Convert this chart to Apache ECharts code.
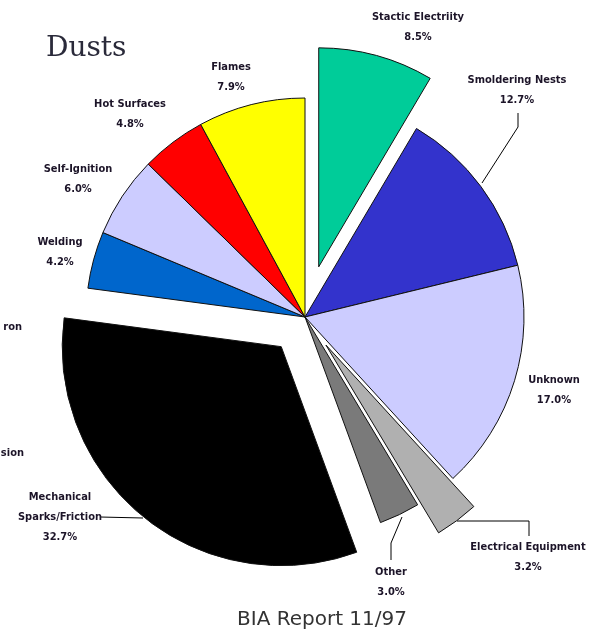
<!DOCTYPE html>
<html>
<head>
<meta charset="utf-8">
<script src="https://cdn.jsdelivr.net/npm/echarts@6/dist/echarts.min.js"></script>
<style>
html,body{margin:0;padding:0;background:#fff;}
#chart{width:600px;height:632px;}
</style>
</head>
<body>
<div id="chart"></div>
<script>
// ---- data ----
var categories = ["Stactic Electriity", "Smoldering Nests", "Unknown", "Electrical Equipment", "Other",
  "Mechanical\nSparks/Friction", "Welding", "Self-Ignition", "Hot Surfaces", "Flames"];
var shares = [8.5, 12.7, 17.0, 3.2, 3.0, 32.7, 4.2, 6.0, 4.8, 7.9];

// ---- styles ----
var colors = ["#00cc99", "#3333cc", "#ccccff", "#b0b0b0", "#7a7a7a", "#000000", "#0066cc", "#ccccff", "#ff0000", "#ffff00"];
var explode = [52, 0, 0, 35, 0, 38, 0, 0, 0, 0];
// label anchors (center x, middle y) and optional leader lines
var labelPos = [[418, 27], [517, 90], [554, 390], [528, 557], [391, 582], [60, 517], [60, 252], [78, 179], [130, 114], [231, 77]];
var leaders = {
  1: [[482, 183], [518, 127], [518, 113]],
  3: [[457, 521], [529, 521], [529, 536]],
  4: [[402, 517], [391, 543], [391, 560]],
  5: [[143, 518], [100, 517]]
};
var LABEL_FONT = 'DejaVu Sans Condensed';
var LABEL_COLOR = '#1c1428';

var chart = echarts.init(document.getElementById('chart'), null, {renderer: 'canvas'});
var CENTER = [305, 317], R = 219;

function buildSeries(groupIdx, offset, withLabels) {
  var data = categories.map(function (name, i) {
    var visible = (groupIdx === null) ? explode[i] === 0 : i === groupIdx;
    var item = {
      name: name,
      value: shares[i],
      itemStyle: visible ? {
        color: colors[i],
        borderColor: '#111',
        borderWidth: 1
      } : {color: 'rgba(0,0,0,0)', borderWidth: 0}
    };
    if (groupIdx !== null && i === groupIdx) item.selected = true;
    if (withLabels) {
      item.label = {show: true};
      item.labelLine = {show: !!leaders[i]};
    } else {
      item.label = {show: false};
      item.labelLine = {show: false};
    }
    return item;
  });
  return {
    type: 'pie',
    center: CENTER,
    radius: [0, R],
    startAngle: 90,
    clockwise: true,
    avoidLabelOverlap: false,
    selectedMode: groupIdx === null ? false : 'multiple',
    selectedOffset: offset,
    silent: true,
    emphasis: {disabled: true},
    select: {itemStyle: {}},
    label: {
      show: withLabels,
      position: 'outside',
      formatter: function (p) { return p.name + '\n' + shares[p.dataIndex].toFixed(1) + '%'; },
      fontFamily: LABEL_FONT,
      fontWeight: 'bold',
      fontSize: 11,
      lineHeight: 20,
      color: LABEL_COLOR,
      align: 'center'
    },
    labelLine: {show: false, lineStyle: {color: '#000', width: 1}},
    labelLayout: withLabels ? function (params) {
      var i = params.dataIndex;
      var o = {x: labelPos[i][0], y: labelPos[i][1], align: 'center', verticalAlign: 'middle'};
      if (leaders[i]) o.labelLinePoints = leaders[i];
      return o;
    } : null,
    data: data,
    z: groupIdx === null ? 2 : 3
  };
}

var series = [buildSeries(null, 0, true)];
explode.forEach(function (off, i) {
  if (off > 0) series.push(buildSeries(i, off, false));
});

chart.setOption({
  animation: false,
  backgroundColor: '#ffffff',
  title: {
    text: 'Dusts',
    left: 41,
    top: 30,
    textStyle: {fontFamily: 'DejaVu Serif', fontWeight: 'normal', fontSize: 28, color: '#2a2a3a'}
  },
  graphic: [
    {type: 'text', x: 322, y: 620, style: {text: 'BIA Report 11/97', fontFamily: 'DejaVu Sans', fontSize: 20, fill: '#333', align: 'center', verticalAlign: 'middle'}},
    {type: 'text', x: 22, y: 327, style: {text: 'ron', fontFamily: LABEL_FONT, fontWeight: 'bold', fontSize: 11, fill: LABEL_COLOR, align: 'right', verticalAlign: 'middle'}},
    {type: 'text', x: 24, y: 453, style: {text: 'sion', fontFamily: LABEL_FONT, fontWeight: 'bold', fontSize: 11, fill: LABEL_COLOR, align: 'right', verticalAlign: 'middle'}}
  ],
  series: series
});
</script>
</body>
</html>
